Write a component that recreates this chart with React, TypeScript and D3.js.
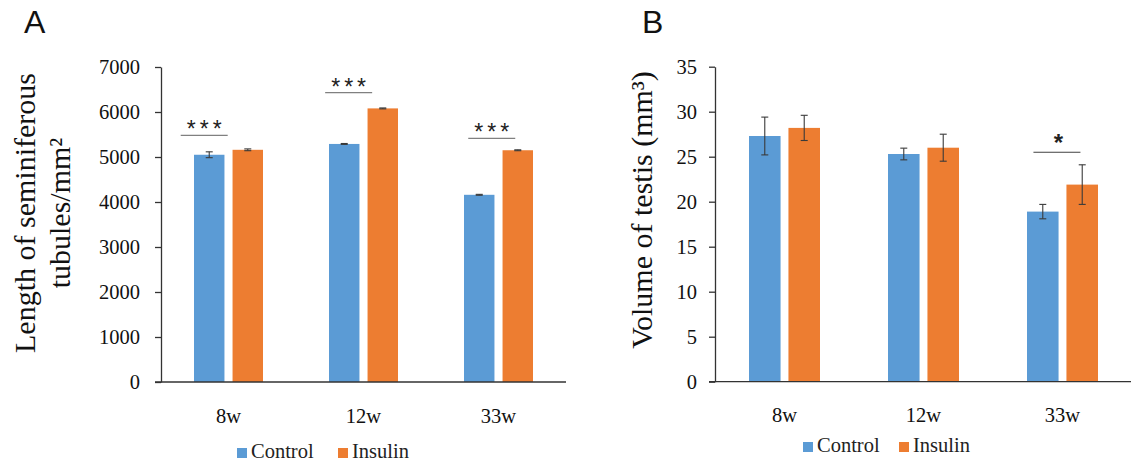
import React, { useEffect, useRef } from "react";
import * as d3 from "d3";

// groups and series
const categories = ["8w", "12w", "33w"];
const series = ["Control", "Insulin"];
const colors = ["#5B9BD5", "#ED7D31"];

// panel A: length of seminiferous tubules / mm2
const lengthControl = [5050, 5290, 4160];
const lengthInsulin = [5160, 6080, 5150];
const lengthControlErr = [65, 10, 10];
const lengthInsulinErr = [20, 10, 10];
const lengthTicks = [0, 1000, 2000, 3000, 4000, 5000, 6000, 7000];
const lengthSigCats = ["8w", "12w", "33w"];
const lengthSigLevels = [5480, 6430, 5415];
const lengthSigMarks = ["***", "***", "***"];
const lengthSigShift = [-0.18, -0.11, -0.05];

// panel B: volume of testis (mm3)
const volumeControl = [27.3, 25.3, 18.9];
const volumeInsulin = [28.2, 26.0, 21.9];
const volumeControlErr = [2.1, 0.65, 0.8];
const volumeInsulinErr = [1.4, 1.5, 2.2];
const volumeTicks = [0, 5, 10, 15, 20, 25, 30, 35];
const volumeSigCats = ["33w"];
const volumeSigLevels = [25.5];
const volumeSigMarks = ["*"];
const volumeSigShift = [-0.04];

const W = 1131;
const H = 466;
const SERIF = "'Liberation Serif', 'Times New Roman', serif";
const SANS = "'Liberation Sans', Arial, sans-serif";

type Panel = {
  letter: string;
  letterX: number;
  x0: number;
  x1: number;
  axisEnd: number;
  top: number;
  bottom: number;
  ticks: number[];
  tickPad: number;
  values: number[][];
  errs: number[][];
  groupHalf: number;
  gap: number;
  sigCats: string[];
  sigLevels: number[];
  sigMarks: string[];
  sigShift: number[];
  sigColor: string;
  labelLines: string[];
  labelX: number[];
  labelY: number;
  legendX: number[];
  legendY: number;
};

const panels: Panel[] = [
  {
    letter: "A",
    letterX: 24,
    x0: 161,
    x1: 566,
    axisEnd: 566,
    top: 67,
    bottom: 382,
    ticks: lengthTicks,
    tickPad: 15,
    values: [lengthControl, lengthInsulin],
    errs: [lengthControlErr, lengthInsulinErr],
    groupHalf: 34.5,
    gap: 0.21,
    sigCats: lengthSigCats,
    sigLevels: lengthSigLevels,
    sigMarks: lengthSigMarks,
    sigShift: lengthSigShift,
    sigColor: "#808080",
    labelLines: ["Length of seminiferous", "tubules/mm\u00B2"],
    labelX: [35, 70],
    labelY: 213,
    legendX: [237, 338],
    legendY: 448,
  },
  {
    letter: "B",
    letterX: 642,
    x0: 715,
    x1: 1132,
    axisEnd: 1131,
    top: 66.7,
    bottom: 381.7,
    ticks: volumeTicks,
    tickPad: 12,
    values: [volumeControl, volumeInsulin],
    errs: [volumeControlErr, volumeInsulinErr],
    groupHalf: 35.5,
    gap: 0.2,
    sigCats: volumeSigCats,
    sigLevels: volumeSigLevels,
    sigMarks: volumeSigMarks,
    sigShift: volumeSigShift,
    sigColor: "#404040",
    labelLines: ["Volume of testis (mm\u00B3)"],
    labelX: [652],
    labelY: 210,
    legendX: [803, 899],
    legendY: 442,
  },
];

const App = () => {
  const ref = useRef<SVGSVGElement>(null);

  useEffect(() => {
    const svg = d3.select(ref.current);
    svg.selectAll("*").remove();

    panels.forEach((p) => {
      const maxTick = p.ticks[p.ticks.length - 1];
      const y = d3.scaleLinear().domain([0, maxTick]).range([p.bottom, p.top]);
      const x = d3.scaleBand().domain(categories).range([p.x0, p.x1]);
      const bw = x.bandwidth();
      const xs = d3
        .scaleBand()
        .domain(series)
        .range([bw / 2 - p.groupHalf, bw / 2 + p.groupHalf])
        .paddingInner(p.gap);

      const g = svg.append("g");

      // panel letter
      g.append("text")
        .attr("x", p.letterX)
        .attr("y", 33)
        .attr("font-family", SANS)
        .attr("font-size", 32)
        .attr("fill", "#111")
        .text(p.letter);

      // bars
      series.forEach((s, si) => {
        categories.forEach((c, ci) => {
          const v = p.values[si][ci];
          const bx = (x(c) as number) + (xs(s) as number);
          g.append("rect")
            .attr("x", bx)
            .attr("y", y(v))
            .attr("width", xs.bandwidth())
            .attr("height", p.bottom - y(v))
            .attr("fill", colors[si]);
        });
      });

      // error bars
      series.forEach((s, si) => {
        categories.forEach((c, ci) => {
          const v = p.values[si][ci];
          const e = p.errs[si][ci];
          const cx = (x(c) as number) + (xs(s) as number) + xs.bandwidth() / 2;
          const eb = g.append("g").attr("stroke", "#3a3a3a").attr("stroke-width", 1.1);
          eb.append("line").attr("x1", cx).attr("x2", cx).attr("y1", y(v + e)).attr("y2", y(v - e));
          eb.append("line").attr("x1", cx - 3.5).attr("x2", cx + 3.5).attr("y1", y(v + e)).attr("y2", y(v + e));
          eb.append("line").attr("x1", cx - 3.5).attr("x2", cx + 3.5).attr("y1", y(v - e)).attr("y2", y(v - e));
        });
      });

      // y axis
      const yAxis = g
        .append("g")
        .attr("transform", `translate(${p.x0},0)`)
        .call(
          d3
            .axisLeft(y)
            .tickValues(p.ticks)
            .tickSize(6)
            .tickSizeOuter(0)
            .tickPadding(p.tickPad)
            .tickFormat(d3.format("d"))
        );
      yAxis.select(".domain").attr("stroke", "#333").attr("stroke-width", 1.3);
      yAxis.selectAll(".tick line").attr("stroke", "#333").attr("stroke-width", 1.3);
      yAxis
        .selectAll(".tick text")
        .attr("font-family", SERIF)
        .attr("font-size", 20.5)
        .attr("fill", "#111");

      // x axis
      const xAxis = g
        .append("g")
        .attr("transform", `translate(0,${p.bottom})`)
        .call(d3.axisBottom(x).tickSize(0).tickPadding(26));
      xAxis.select(".domain").remove();
      xAxis
        .append("line")
        .attr("x1", p.x0 - 6)
        .attr("x2", p.axisEnd)
        .attr("stroke", "#333")
        .attr("stroke-width", 1.3);
      xAxis
        .selectAll(".tick text")
        .attr("font-family", SERIF)
        .attr("font-size", 20.5)
        .attr("fill", "#111");

      // significance markers
      p.sigCats.forEach((c, i) => {
        const cx = (x(c) as number) + bw / 2 + p.sigShift[i] * bw;
        const ly = y(p.sigLevels[i]);
        const single = p.sigMarks[i].length === 1;
        g.append("line")
          .attr("x1", cx - 23.5)
          .attr("x2", cx + 23.5)
          .attr("y1", ly)
          .attr("y2", ly)
          .attr("stroke", p.sigColor)
          .attr("stroke-width", 1.1);
        g.append("text")
          .attr("x", cx + (single ? 1.5 : 2))
          .attr("y", single ? ly - 1 : ly + 2)
          .attr("text-anchor", "middle")
          .attr("font-family", SANS)
          .attr("font-size", single ? 24 : 23)
          .attr("font-weight", single ? "bold" : "normal")
          .attr("letter-spacing", single ? 0 : 4)
          .attr("fill", "#222")
          .text(p.sigMarks[i]);
      });

      // y label
      p.labelLines.forEach((t, i) => {
        g.append("text")
          .attr("transform", `translate(${p.labelX[i]},${p.labelY}) rotate(-90)`)
          .attr("text-anchor", "middle")
          .attr("font-family", SERIF)
          .attr("font-size", 30)
          .attr("fill", "#111")
          .text(t);
      });

      // legend
      series.forEach((s, si) => {
        g.append("rect")
          .attr("x", p.legendX[si])
          .attr("y", p.legendY)
          .attr("width", 10)
          .attr("height", 10)
          .attr("fill", colors[si]);
        g.append("text")
          .attr("x", p.legendX[si] + 14)
          .attr("y", p.legendY + 10)
          .attr("font-family", SERIF)
          .attr("font-size", 20.5)
          .attr("fill", "#222")
          .text(s);
      });
    });
  }, []);

  return (
    <svg
      ref={ref}
      width={W}
      height={H}
      style={{ position: "absolute", left: 0, top: 0, background: "#fff" }}
    ></svg>
  );
};

export default App;
